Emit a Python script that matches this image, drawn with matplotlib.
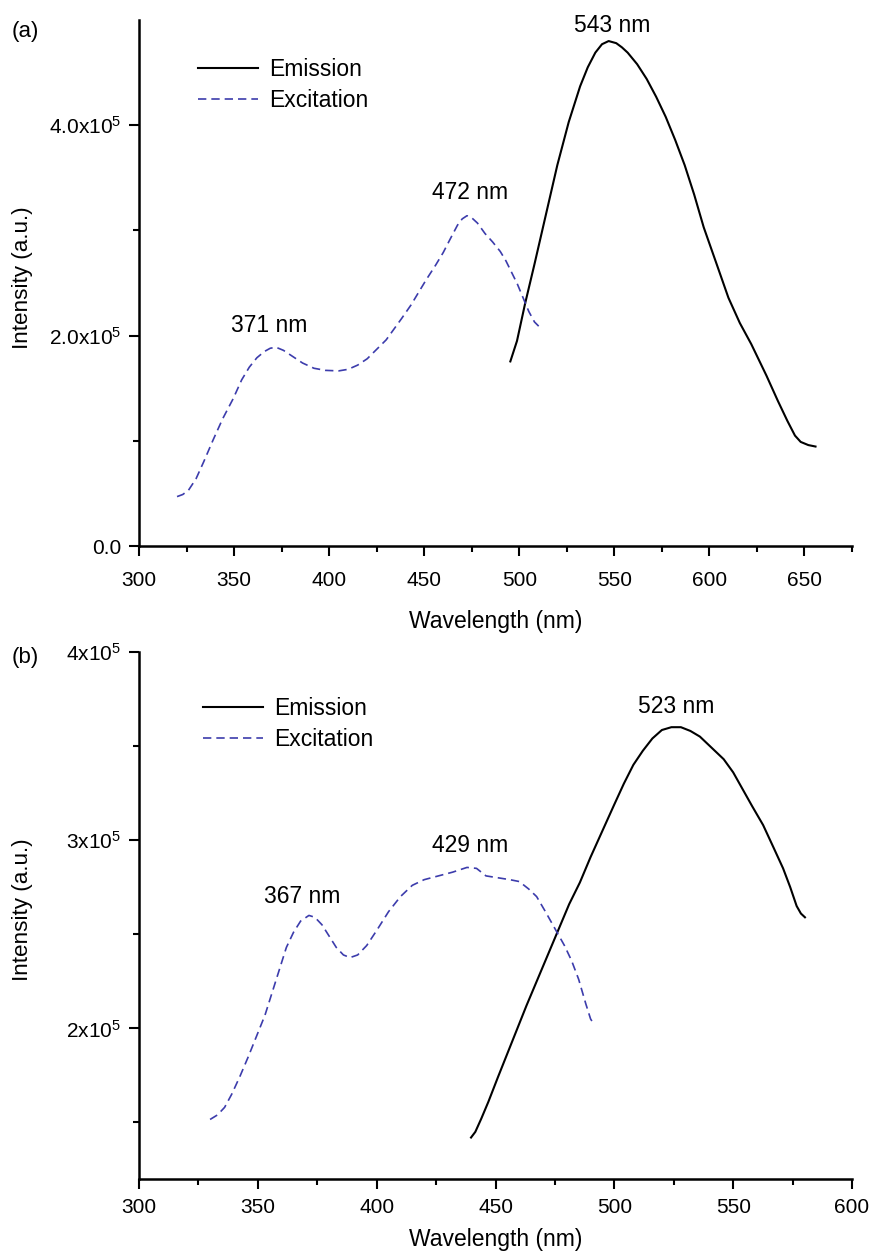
import matplotlib
matplotlib.use('Agg')
import matplotlib.pyplot as plt
import numpy as np

plt.rcParams['font.family'] = ['Liberation Sans', 'DejaVu Sans']
plt.rcParams['mathtext.fontset'] = 'custom'
plt.rcParams['mathtext.rm'] = 'Liberation Sans'
plt.rcParams['mathtext.default'] = 'regular'

# ---- panel (a) data (intensity in units of 1e5) ----
a_exc_nm = [320, 323, 326, 330, 334, 339, 344, 349.5, 354, 358, 362, 366, 369, 372, 376,
            381, 386, 392, 398, 405, 410, 415, 420, 425, 430, 434, 438, 443, 447, 451,
            456, 460, 464, 467.5, 470, 472.5, 475, 478, 482, 486, 490, 493, 496, 499,
            502, 505, 508, 510.2]
a_exc_int = [0.47, 0.49, 0.53, 0.64, 0.80, 1.01, 1.21, 1.40, 1.58, 1.70, 1.79, 1.85, 1.88,
             1.89, 1.86, 1.80, 1.74, 1.69, 1.67, 1.665, 1.68, 1.72, 1.78, 1.87, 1.96, 2.06,
             2.16, 2.29, 2.41, 2.53, 2.67, 2.79, 2.93, 3.05, 3.11, 3.14, 3.12, 3.07, 2.97,
             2.89, 2.80, 2.71, 2.60, 2.49, 2.36, 2.23, 2.13, 2.09]
a_em_nm = [495.3, 498.8, 503, 508, 514, 520, 526, 532, 536, 540, 543.5, 547, 551, 554,
           557, 562, 567, 572, 577, 582, 587, 592, 597, 604, 610, 616, 622, 630, 636, 641,
           645, 648, 652, 655.8]
a_em_int = [1.755, 1.95, 2.30, 2.68, 3.15, 3.62, 4.03, 4.37, 4.55, 4.69, 4.77, 4.80, 4.78,
            4.74, 4.69, 4.58, 4.44, 4.27, 4.08, 3.86, 3.62, 3.34, 3.03, 2.67, 2.36, 2.12,
            1.92, 1.62, 1.38, 1.19, 1.05, 0.99, 0.96, 0.946]
a_peaks = ['371 nm', '472 nm', '543 nm']
a_peak_xy = [(368.4, 2.095), (474.2, 3.36), (549, 4.95)]
a_yticks = [0, 2, 4]
a_yticklabels = ['0.0', '2.0x10$^5$', '4.0x10$^5$']

# ---- panel (b) data ----
b_exc_nm = [329.9, 333, 336, 339, 342.5, 346, 349.5, 353, 356, 359, 362, 365, 368, 371.5,
            374, 377, 380, 383, 386, 388.8, 392, 395.8, 400, 405, 410, 415, 420, 426, 432,
            438, 442, 446, 451, 456, 460, 464, 467.3, 471, 475, 479, 482, 485, 488, 490,
            491.5]
b_exc_int = [1.516, 1.54, 1.58, 1.65, 1.746, 1.85, 1.96, 2.07, 2.19, 2.31, 2.43, 2.51, 2.57,
             2.60, 2.59, 2.55, 2.49, 2.43, 2.39, 2.376, 2.39, 2.44, 2.52, 2.62, 2.70, 2.76,
             2.79, 2.81, 2.83, 2.855, 2.85, 2.81, 2.80, 2.79, 2.78, 2.74, 2.70, 2.62, 2.53,
             2.44, 2.36, 2.26, 2.13, 2.05, 2.02]
b_em_nm = [439.7, 441.5, 444, 447, 451, 457, 463, 470, 477, 481, 485.5, 490, 495, 500, 504,
           508, 512, 516, 520, 524, 528, 532, 536, 541, 546, 550, 554, 558, 562.6, 567,
           571, 574, 576.7, 578.5, 580.2]
b_em_int = [1.42, 1.45, 1.52, 1.61, 1.74, 1.93, 2.12, 2.33, 2.54, 2.66, 2.775, 2.91, 3.05,
            3.19, 3.30, 3.40, 3.475, 3.54, 3.585, 3.60, 3.60, 3.58, 3.55, 3.49, 3.43, 3.36,
            3.27, 3.18, 3.08, 2.96, 2.85, 2.75, 2.65, 2.61, 2.59]
b_peaks = ['367 nm', '429 nm', '523 nm']
b_peak_xy = [(368.7, 2.70), (439.5, 2.97), (525.9, 3.71)]
b_yticks = [2, 3, 4]
b_yticklabels = ['2x10$^5$', '3x10$^5$', '4x10$^5$']

exc_color = '#3c3cac'

fig = plt.figure(figsize=(8.71, 12.51), dpi=100)
ax_a = fig.add_axes([0.1596, 0.5635, 0.8186, 0.4205])
ax_b = fig.add_axes([0.1596, 0.0576, 0.8186, 0.4213])

panels = [
    (ax_a, a_em_nm, a_em_int, a_exc_nm, a_exc_int, a_peaks, a_peak_xy, a_yticks, a_yticklabels,
     (300, 675), (0, 5.0), [1, 3], np.arange(300, 651, 50), np.arange(325, 676, 50),
     11, 14, (0.083, 0.927)),
    (ax_b, b_em_nm, b_em_int, b_exc_nm, b_exc_int, b_peaks, b_peak_xy, b_yticks, b_yticklabels,
     (300, 600), (1.2, 4.0), [1.5, 2.5, 3.5], np.arange(300, 601, 50), np.arange(325, 576, 50),
     7, 8, (0.09, 0.915)),
]

for (ax, em_x, em_y, ex_x, ex_y, peaks, peak_xy, yt, ytl, xlim, ylim, yminor,
     xmajor, xminor, xpad, xlabpad, leg_pos) in panels:
    ax.plot(em_x, np.array(em_y) * 1e5, color='black', lw=1.5, label='Emission')
    ax.plot(ex_x, np.array(ex_y) * 1e5, color=exc_color, lw=1.2,
            linestyle=(0, (5, 3)), label='Excitation')
    for txt, (px, py) in zip(peaks, peak_xy):
        ax.text(px, py * 1e5, txt, ha='center', va='center', fontsize=16.5)

    ax.set_xlim(*xlim)
    ax.set_ylim(ylim[0] * 1e5, ylim[1] * 1e5)
    ax.set_xticks(xmajor)
    ax.set_xticks(xminor, minor=True)
    ax.set_yticks(np.array(yt) * 1e5)
    ax.set_yticklabels(ytl)
    ax.set_yticks(np.array(yminor) * 1e5, minor=True)

    for s in ['top', 'right']:
        ax.spines[s].set_visible(False)
    for s in ['left', 'bottom']:
        ax.spines[s].set_linewidth(1.8)
    ax.tick_params(which='major', direction='out', length=7, width=1.5, labelsize=15)
    ax.tick_params(which='minor', direction='out', length=4, width=1.5)
    ax.tick_params(axis='x', which='major', pad=xpad)
    ax.tick_params(axis='y', which='major', pad=6)

    ax.set_xlabel('Wavelength (nm)', fontsize=16.5, labelpad=xlabpad)
    ax.set_ylabel('Intensity (a.u.)', fontsize=16.2)
    ax.yaxis.set_label_coords(-0.148, 0.51)

    ax.legend(loc='upper left', bbox_to_anchor=leg_pos, frameon=False, fontsize=16.5,
              handlelength=2.6, handletextpad=0.5, labelspacing=0.35,
              borderpad=0, borderaxespad=0)

fig.text(12 / 871, 1 - 31 / 1251, '(a)', fontsize=16, va='center', ha='left')
fig.text(12 / 871, 1 - 658 / 1251, '(b)', fontsize=16, va='center', ha='left')

fig.savefig('out.png', dpi=100)
